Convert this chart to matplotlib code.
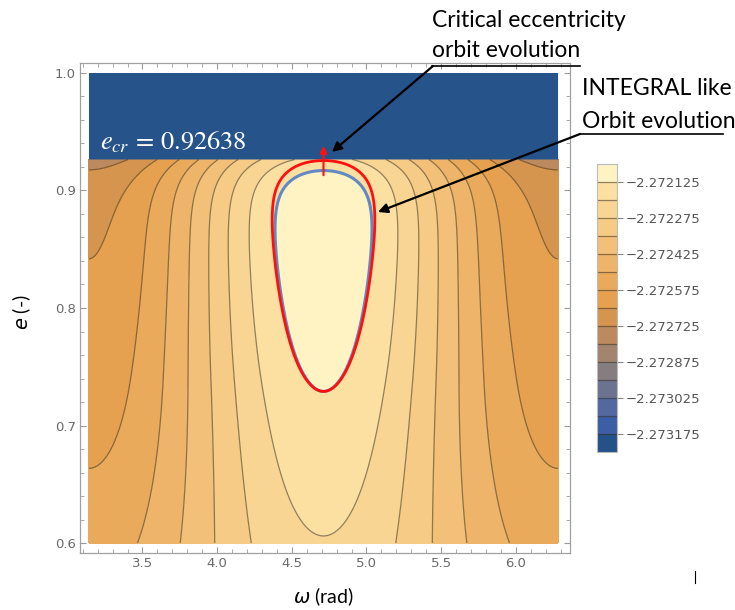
"""
Contour map of the averaged orbital energy in the (omega, e) plane.

Draws the filled contour field, the INTEGRAL-like and the critical orbit
evolutions and the e_cr cut-off, then saves the figure as out.png.
"""

import matplotlib

matplotlib.use("Agg")

import matplotlib.pyplot as plt
import numpy as np
from matplotlib.lines import Line2D
from matplotlib.ticker import FormatStrFormatter, MultipleLocator

# Contour levels (one line every LEVEL_STEP, every other one labelled)
LEVEL_STEP = 0.000075
LEVELS = [-2.273175 + LEVEL_STEP * k for k in range(15)]
TICK_LEVELS = [-2.273175, -2.273025, -2.272875, -2.272725,
               -2.272575, -2.272425, -2.272275, -2.272125]

# Band colours from the lowest to the highest value
BAND_COLORS = ["#245288", "#3B5EA5", "#52689F", "#6B7391", "#857D80", "#A2846F",
               "#BC8A5E", "#D6954F", "#E5A14F", "#E9AA5C", "#EEB56A", "#F2C078",
               "#F6CB85", "#F9D593", "#FCE0A2", "#FFF2C3"]
CUTOFF_COLOR = "#265389"

E_CR = 0.92638
E_MIN = 0.6

# Field along omega = 3pi/2, in units of one contour step:
# linear rise, a gentle bend and an exponential fall just below e_cr
CENTRE_OFFSET = -1.049
CENTRE_SLOPE = 8.13
BEND_START, BEND_RATE = 0.74, 15.8
FALL_SCALE = 0.0175
FALL_AT_INTEGRAL = 0.9164    # INTEGRAL-like orbit, top at e ~ 0.917
FALL_AT_CRITICAL = 0.9230    # critical orbit, top at e_cr
FALL_EDGE_RELIEF = 0.25      # the fall is weaker towards omega = pi, 2pi
CRITICAL_DRIFT = 0.5         # slow widening of the critical orbit with e
ORBIT_E_MIN = 0.729          # both orbits share their lowest eccentricity

# Amplitude of the cos^2(omega) term
AMPL_TOP = 8.25
AMPL_SPAN = 3.85
AMPL_POWER = 1.5


def field(omega, e, fall_at=FALL_AT_INTEGRAL):
    """Averaged energy in contour steps relative to the top level."""
    c2 = np.cos(omega) ** 2
    lin = CENTRE_OFFSET + CENTRE_SLOPE * (e - E_MIN)
    bend = BEND_RATE * np.clip(e - BEND_START, 0.0, None) ** 2
    fall = np.exp((e - fall_at) / FALL_SCALE) * (1.0 - FALL_EDGE_RELIEF * c2)
    t = np.clip((E_CR - e) / (E_CR - E_MIN), 0.0, None)
    ampl = AMPL_TOP - AMPL_SPAN * t ** AMPL_POWER
    return lin - bend - fall - ampl * c2


def px(x, y):
    """Pixel position (from the top-left corner) to figure fraction."""
    return x / 735.0, 1.0 - y / 610.0


omega = np.linspace(np.pi, 2 * np.pi, 600)
ecc = np.linspace(E_MIN, E_CR, 700)
W, E = np.meshgrid(omega, ecc)
U = field(W, E)
U_crit = field(W, E, FALL_AT_CRITICAL) + CRITICAL_DRIFT * (E - ORBIT_E_MIN)
F = LEVELS[-1] + U * LEVEL_STEP

fig = plt.figure(figsize=(7.35, 6.1), dpi=100)
ax = fig.add_axes([80 / 735, 57 / 610, 490 / 735, 490 / 610])

bounds = [LEVELS[0] - 2 * LEVEL_STEP] + LEVELS + [LEVELS[-1] + 3 * LEVEL_STEP]
cf = ax.contourf(W, E, F, levels=bounds, colors=BAND_COLORS)
cl = ax.contour(W, E, F, levels=LEVELS, colors="#3a3020", linewidths=0.9,
                linestyles="solid", alpha=0.55)

# region beyond the critical eccentricity
ax.fill_between(omega, E_CR, 1.0, color=CUTOFF_COLOR, edgecolor="none")

# orbit evolutions
ax.contour(W, E, U, levels=[0], colors="#6289C4", linewidths=2.2, linestyles="solid")
ax.contour(W, E, U_crit, levels=[0], colors="#FF1010", linewidths=2.0, linestyles="solid")

ax.annotate("", xy=(1.5 * np.pi, 0.938), xytext=(1.5 * np.pi, 0.913),
            arrowprops=dict(arrowstyle="-|>", color="#FF1010", lw=1.5,
                            mutation_scale=10, shrinkA=0, shrinkB=0))

ax.text(3.215, 0.9353, r"$e_{cr}\,=\,0.92638$", color="white", fontsize=19,
        math_fontfamily="stix", va="baseline")

ax.set_xlim(np.pi - 0.06, 2 * np.pi + 0.08)
ax.set_ylim(0.5915, 1.0085)
ax.xaxis.set_major_locator(MultipleLocator(0.5))
ax.xaxis.set_minor_locator(MultipleLocator(0.1))
ax.yaxis.set_major_locator(MultipleLocator(0.1))
ax.yaxis.set_minor_locator(MultipleLocator(0.02))
ax.xaxis.set_major_formatter(FormatStrFormatter("%.1f"))
ax.yaxis.set_major_formatter(FormatStrFormatter("%.1f"))
ax.tick_params(which="both", direction="in", top=True, right=True,
               colors="#9a9a9a", labelcolor="#6a6a6a", labelsize=9.5, pad=3)
ax.tick_params(which="major", length=4.5, width=0.8)
ax.tick_params(which="minor", length=2.7, width=0.6)
for spine in ax.spines.values():
    spine.set_edgecolor("#a0a0a0")
    spine.set_linewidth(0.9)

fig.text(*px(323, 597), r"$\omega$ (rad)", fontsize=14, fontfamily="Lato",
         math_fontfamily="dejavusans", ha="center", va="center")
fig.text(*px(22, 312), r"$e$ (-)", fontsize=14, fontfamily="Lato",
         math_fontfamily="dejavusans", ha="center", va="center", rotation=90)

# colour bar with the contour lines drawn across it
cax = fig.add_axes([597 / 735, 158 / 610, 20 / 735, 288 / 610])
cbar = fig.colorbar(cf, cax=cax, ticks=TICK_LEVELS)
cbar.add_lines(cl)
cbar.set_ticklabels([f"{v:.6f}".replace("-", "\u2212") for v in TICK_LEVELS])
cbar.ax.minorticks_off()
cbar.ax.tick_params(direction="out", length=4, width=0.8, color="#888888",
                    labelsize=9.5, labelcolor="#555555", pad=2)
cbar.outline.set_edgecolor("#bbbbbb")
cbar.outline.set_linewidth(0.8)

# callouts
label_kw = dict(fontsize=16.5, fontfamily="Lato", color="black", va="baseline")
fig.text(*px(432, 27), "Critical eccentricity", **label_kw)
fig.text(*px(432, 57), "orbit evolution", **label_kw)
fig.text(*px(582, 95), "INTEGRAL like", **label_kw)
fig.text(*px(582, 128), "Orbit evolution", **label_kw)

for (x0, x1, y) in [(432, 580, 66), (580, 723, 134)]:
    (fx0, fy), (fx1, _) = px(x0, y), px(x1, y)
    fig.add_artist(Line2D([fx0, fx1], [fy, fy], color="black", lw=1.2))

arrow_kw = dict(arrowstyle="-|>", color="black", lw=1.6, mutation_scale=14,
                shrinkA=0, shrinkB=0)
ax.annotate("", xy=(4.769, 0.9328), xycoords="data", xytext=px(433, 66),
            textcoords="figure fraction", arrowprops=arrow_kw)
ax.annotate("", xy=(5.077, 0.8817), xycoords="data", xytext=px(580, 134),
            textcoords="figure fraction", arrowprops=arrow_kw)

(cx, cy0), (_, cy1) = px(695, 571), px(695, 583)
fig.add_artist(Line2D([cx, cx], [cy0, cy1], color="black", lw=0.8))

fig.savefig("out.png", dpi=100)
